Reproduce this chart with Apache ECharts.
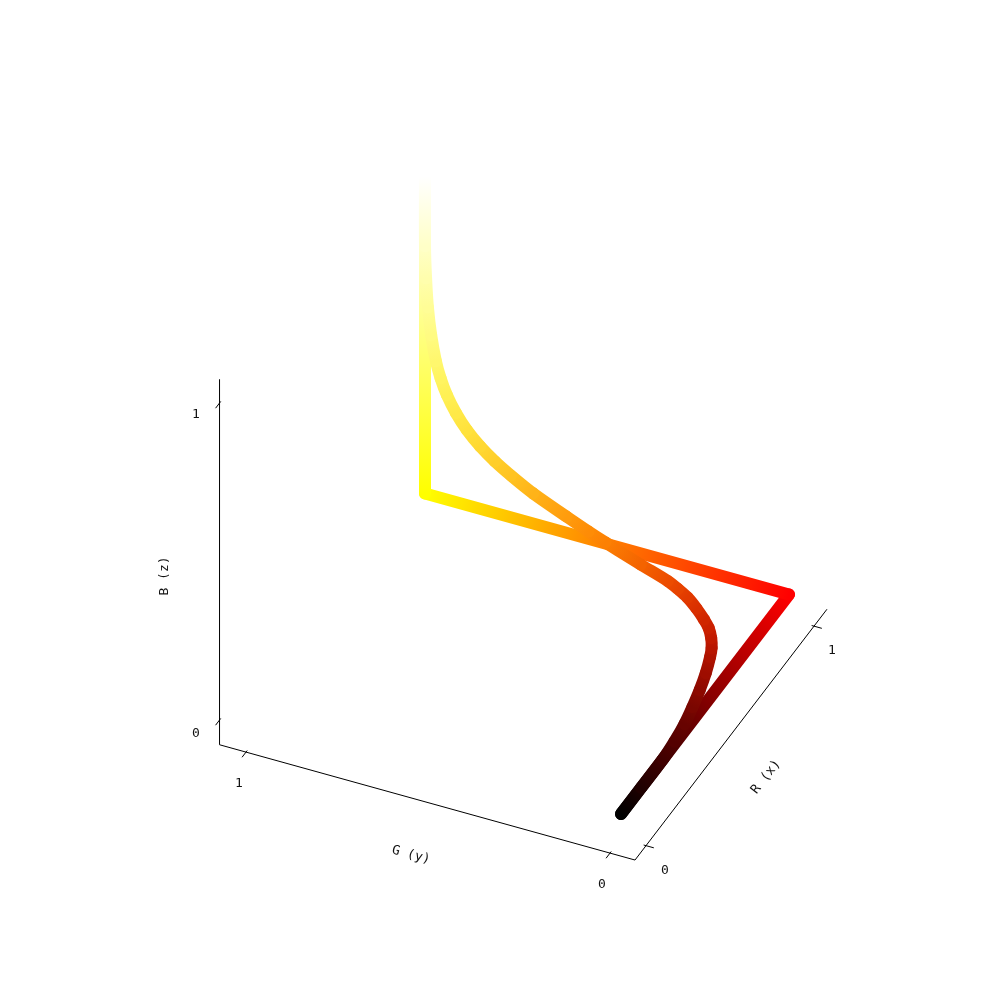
<!DOCTYPE html>
<html><head><meta charset="utf-8">
<style>html,body{margin:0;padding:0;background:#fff}#c{width:1000px;height:1000px}</style>
<script src="https://cdn.jsdelivr.net/npm/echarts@6/dist/echarts.min.js"></script></head>
<body><div id="c"></div>
<script>
// Straight path through the RGB cube
var cubeR = [0, 1, 1, 1];
var cubeG = [0, 0, 1, 1];
var cubeB = [0, 0, 0, 1];
// Curved colormap path
var curveR = [0, .12, .25, .3282, .4044, .4766, .548, .6183, .6829, .7183, .7554, .7904, .8174, .851, .8829, .9049, .9243, .958, .99, .998, 1, 1, 1, 1, 1, 1, 1, 1, 1, 1, 1, 1, 1, 1, 1];
var curveG = [0, 0, 0, .0045, .0122, .0236, .0367, .0524, .0704, .0826, .1008, .1239, .1492, .1853, .2248, .2611, .2983, .3883, .5, .55, .611, .703, .764, .808, .848, .885, .915, .94, .957, .97, .983, .992, .997, 1, 1];
var curveB = [0, 0, 0, 0, 0, 0, 0, 0, 0, 0, 0, 0, 0, 0, 0, 0, 0, 0, .012, .025, .051, .095, .132, .1625, .1965, .237, .281, .33, .377, .427, .505, .59, .68, .78, 1];
var tickValues = [0, 1];
var tickLabels = ['0', '1'];
var axisNames = ['R (x)', 'G (y)', 'B (z)'];

// oblique projection of the cube onto the page plane
var ORIGIN = [621, 814], U = [168, -219.5], V = [-364, -101], W = [0, -317];
function project(r, g, b) {
  return [ORIGIN[0] + r * U[0] + g * V[0] + b * W[0],
          ORIGIN[1] + r * U[1] + g * V[1] + b * W[1]];
}
var AX = {r: -.0655, g0: -.0687, g1: 1.0727, b0: -.078, r1: 1.077, b1: 1.075};
var axisSegs = [
  [[AX.r, AX.g0, AX.b0], [AX.r1, AX.g0, AX.b0]],
  [[AX.r, AX.g0, AX.b0], [AX.r, AX.g1, AX.b0]],
  [[AX.r, AX.g1, AX.b0], [AX.r, AX.g1, AX.b1]]
];
var tickSegs = [];
tickValues.forEach(function (t) {
  tickSegs.push([[t, AX.g0 + .0065, AX.b0], [t, AX.g0 - .0215, AX.b0]]);
  tickSegs.push([[AX.r - .0235, t, AX.b0], [AX.r + .0073, t, AX.b0]]);
  tickSegs.push([[AX.r - .0235, AX.g1, t], [AX.r + .0073, AX.g1, t]]);
});
// label anchors [text, x, y, rotation(deg)] in page plane coordinates
var texts = [
  [tickLabels[0], 665, 870.5, 0], [tickLabels[1], 832, 650.5, 0],
  [tickLabels[0], 602, 884.5, 0], [tickLabels[1], 239, 783.5, 0],
  [tickLabels[0], 196, 733.5, 0], [tickLabels[1], 196, 414.5, 0],
  [axisNames[0], 766, 777, 52], [axisNames[1], 411, 855, -15], [axisNames[2], 165, 576, 90]
];

function rgb(c) { return 'rgb(' + c.map(function (v) { return Math.round(v * 255); }).join(',') + ')'; }
function pathRows(R, G, B) {
  var rows = [], n = R.length;
  function P(i) { i = Math.max(0, Math.min(n - 1, i)); return project(R[i], G[i], B[i]); }
  for (var i = 0; i + 1 < n; i++) {
    var a = P(i), b = P(i + 1), p = P(i - 1), q = P(i + 2);
    rows.push([a[0], a[1], b[0], b[1], R[i], G[i], B[i], R[i + 1], G[i + 1], B[i + 1], p[0], p[1], q[0], q[1]]);
  }
  return rows;
}
function grad(api, a, b) {
  return new echarts.graphic.LinearGradient(a[0], a[1], b[0], b[1], [
    {offset: 0, color: rgb([api.value(4), api.value(5), api.value(6)])},
    {offset: 1, color: rgb([api.value(7), api.value(8), api.value(9)])}], true);
}
var W_LINE = 12;
function straightRenderer(p, api) {
  var a = api.coord([api.value(0), api.value(1)]), b = api.coord([api.value(2), api.value(3)]);
  return {type: 'line', shape: {x1: a[0], y1: a[1], x2: b[0], y2: b[1]},
    style: {stroke: grad(api, a, b), lineWidth: W_LINE, lineCap: 'round', fill: null}};
}
function unit(dx, dy) { var l = Math.hypot(dx, dy) || 1; return [dx / l, dy / l]; }
function curveRenderer(p, api) {
  var a = api.coord([api.value(0), api.value(1)]), b = api.coord([api.value(2), api.value(3)]);
  var o = api.coord([api.value(10), api.value(11)]), q = api.coord([api.value(12), api.value(13)]);
  var t1 = unit(b[0] - o[0], b[1] - o[1]), t2 = unit(q[0] - a[0], q[1] - a[1]);
  var k = Math.hypot(b[0] - a[0], b[1] - a[1]) / 3;
  return {type: 'bezierCurve', shape: {x1: a[0], y1: a[1], x2: b[0], y2: b[1],
      cpx1: a[0] + t1[0] * k, cpy1: a[1] + t1[1] * k, cpx2: b[0] - t2[0] * k, cpy2: b[1] - t2[1] * k},
    style: {stroke: grad(api, a, b), lineWidth: W_LINE, lineCap: 'round', fill: null}};
}
var axisRows = axisSegs.concat(tickSegs).map(function (s) {
  var a = project.apply(null, s[0]), b = project.apply(null, s[1]);
  return [a[0], a[1], b[0], b[1]];
});
var chart = echarts.init(document.getElementById('c'), null, {renderer: 'canvas'});
chart.setOption({
  animation: false, backgroundColor: '#fff',
  grid: {left: 0, top: 0, width: 1000, height: 1000},
  xAxis: {type: 'value', min: 0, max: 1000, show: false},
  yAxis: {type: 'value', min: 0, max: 1000, inverse: true, show: false},
  series: [
    {type: 'custom', data: axisRows, clip: false, silent: true, z: 1,
     renderItem: function (p, api) {
       var a = api.coord([api.value(0), api.value(1)]), b = api.coord([api.value(2), api.value(3)]);
       return {type: 'line', shape: {x1: a[0], y1: a[1], x2: b[0], y2: b[1]}, style: {stroke: '#000', lineWidth: 1, fill: null}};
     }},
    {type: 'custom', data: pathRows(cubeR, cubeG, cubeB), clip: false, silent: true, z: 2, renderItem: straightRenderer},
    {type: 'custom', data: pathRows(curveR, curveG, curveB), clip: false, silent: true, z: 3, renderItem: curveRenderer},
    {type: 'custom', data: texts.map(function (t) { return [t[1], t[2], t[3]]; }), clip: false, silent: true, z: 4,
     renderItem: function (p, api) {
       var a = api.coord([api.value(0), api.value(1)]);
       return {type: 'text', x: a[0], y: a[1], rotation: api.value(2) * Math.PI / 180,
         style: {text: texts[p.dataIndex][0], fill: '#111', font: '13px "DejaVu Sans Mono", monospace', align: 'center', verticalAlign: 'middle'}};
     }}
  ]
});
</script></body></html>
